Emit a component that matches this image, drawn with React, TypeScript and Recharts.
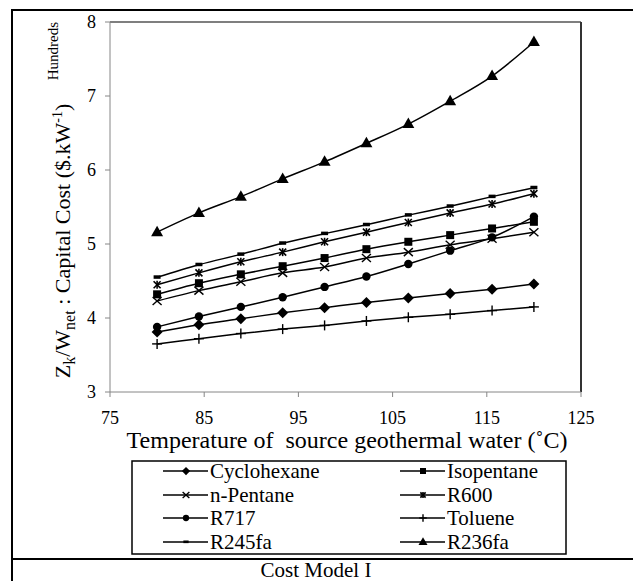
import { Line, LineChart, ReferenceLine, XAxis, YAxis } from 'recharts'

// source water temperature, °C
const temps = [80, 84.44, 88.89, 93.33, 97.78, 102.22, 106.67, 111.11, 115.56, 120]

// capital cost per net power, hundreds of $/kW
const cyclohexane = [3.81, 3.91, 3.99, 4.07, 4.14, 4.21, 4.27, 4.33, 4.39, 4.46]
const isopentane = [4.32, 4.47, 4.59, 4.7, 4.81, 4.93, 5.03, 5.12, 5.21, 5.3]
const nPentane = [4.23, 4.37, 4.49, 4.61, 4.69, 4.81, 4.89, 4.99, 5.07, 5.16]
const r600 = [4.45, 4.61, 4.76, 4.89, 5.03, 5.16, 5.29, 5.42, 5.54, 5.68]
const r717 = [3.88, 4.02, 4.15, 4.28, 4.42, 4.56, 4.73, 4.91, 5.09, 5.37]
const toluene = [3.65, 3.72, 3.79, 3.85, 3.9, 3.96, 4.01, 4.05, 4.1, 4.15]
const r245fa = [4.55, 4.72, 4.86, 5.01, 5.14, 5.26, 5.39, 5.51, 5.64, 5.76]
const r236fa = [5.16, 5.42, 5.64, 5.88, 6.11, 6.36, 6.62, 6.93, 7.27, 7.73]

const xTicks = [75, 85, 95, 105, 115, 125]
const yTicks = [3, 4, 5, 6, 7, 8]

type Shape = 'diamond' | 'square' | 'cross' | 'star' | 'circle' | 'plus' | 'dash' | 'triangle'

const series: { name: string; values: number[]; shape: Shape }[] = [
  { name: 'Cyclohexane', values: cyclohexane, shape: 'diamond' },
  { name: 'Isopentane', values: isopentane, shape: 'square' },
  { name: 'n-Pentane', values: nPentane, shape: 'cross' },
  { name: 'R600', values: r600, shape: 'star' },
  { name: 'R717', values: r717, shape: 'circle' },
  { name: 'Toluene', values: toluene, shape: 'plus' },
  { name: 'R245fa', values: r245fa, shape: 'dash' },
  { name: 'R236fa', values: r236fa, shape: 'triangle' },
]

const rows = temps.map((t, i) => {
  const row: Record<string, number> = { t }
  series.forEach((s) => (row[s.name] = s.values[i]))
  return row
})

const FONT = '"Liberation Serif", "Times New Roman", serif'
const AXIS = '#868686'

function Marker({ shape, cx, cy, k = 1 }: { shape: Shape; cx: number; cy: number; k?: number }) {
  const s = k
  switch (shape) {
    case 'diamond':
      return <polygon points={`${cx},${cy - 5.5 * s} ${cx + 5.5 * s},${cy} ${cx},${cy + 5.5 * s} ${cx - 5.5 * s},${cy}`} fill='#000' />
    case 'square':
      return <rect x={cx - 4 * s} y={cy - 4 * s} width={8 * s} height={8 * s} fill='#000' />
    case 'cross':
      return (
        <g stroke='#000' strokeWidth={1.4}>
          <line x1={cx - 4.5 * s} y1={cy - 4 * s} x2={cx + 4.5 * s} y2={cy + 4 * s} />
          <line x1={cx - 4.5 * s} y1={cy + 4 * s} x2={cx + 4.5 * s} y2={cy - 4 * s} />
        </g>
      )
    case 'star':
      return (
        <g stroke='#000' strokeWidth={1.6}>
          <line x1={cx - 3.5 * s} y1={cy - 3.5 * s} x2={cx + 3.5 * s} y2={cy + 3.5 * s} />
          <line x1={cx - 3.5 * s} y1={cy + 3.5 * s} x2={cx + 3.5 * s} y2={cy - 3.5 * s} />
          <line x1={cx} y1={cy - 4 * s} x2={cx} y2={cy + 4 * s} />
        </g>
      )
    case 'circle':
      return <circle cx={cx} cy={cy} r={4.2 * s} fill='#000' />
    case 'plus':
      return (
        <g stroke='#000' strokeWidth={1.4}>
          <line x1={cx - 5 * s} y1={cy} x2={cx + 5 * s} y2={cy} />
          <line x1={cx} y1={cy - 5 * s} x2={cx} y2={cy + 5 * s} />
        </g>
      )
    case 'dash':
      return <rect x={cx - 3.5 * s} y={cy - 2 * s} width={7 * s} height={3.5 * s} fill='#000' />
    case 'triangle':
      return <polygon points={`${cx},${cy - 6.5 * s} ${cx + 6 * s},${cy + 4 * s} ${cx - 6 * s},${cy + 4 * s}`} fill='#000' />
  }
  return null
}

const legendRows = [471, 495, 518, 542]
const legendCols = [163, 400]

export default function App() {
  return (
    <div style={{ position: 'absolute', left: 0, top: 0, width: 633, height: 581, background: '#fff', fontFamily: FONT }}>
      <LineChart width={633} height={581} data={rows} margin={{ top: 22, right: 52, bottom: 159, left: 0 }}>
        <XAxis
          dataKey='t'
          type='number'
          domain={[75, 125]}
          ticks={xTicks}
          stroke={AXIS}
          tickSize={5}
          tickMargin={14}
          height={30}
          tick={{ fill: '#000', fontSize: 18, fontFamily: FONT }}
        />
        <YAxis
          domain={[3, 8]}
          ticks={yTicks}
          stroke={AXIS}
          tickSize={5}
          tickMargin={9}
          width={110}
          tick={{ fill: '#000', fontSize: 18, fontFamily: FONT }}
        />
        <ReferenceLine y={8} stroke='#555' strokeWidth={1.5} />
        <ReferenceLine x={125} stroke='#333' strokeWidth={2} />
        {series.map((s) => (
          <Line
            key={s.name}
            type='monotone'
            dataKey={s.name}
            stroke='#000'
            strokeWidth={1.5}
            isAnimationActive={false}
            dot={(p: any) => (
              <g key={`${s.name}-${p.index}`}>
                <Marker shape={s.shape} cx={p.cx} cy={p.cy} />
              </g>
            )}
            activeDot={false}
          />
        ))}
      </LineChart>

      <svg width={633} height={581} style={{ position: 'absolute', left: 0, top: 0, pointerEvents: 'none' }} fontFamily={FONT}>
        {/* table cell frame */}
        <line x1={12} y1={10} x2={12} y2={581} stroke='#000' strokeWidth={2} />
        <line x1={11} y1={10} x2={633} y2={10} stroke='#000' strokeWidth={2} />
        <line x1={11} y1={559} x2={633} y2={559} stroke='#000' strokeWidth={2} />

        <text x={58} y={22} transform='rotate(-90 58 22)' textAnchor='end' fontSize={15}>
          Hundreds
        </text>
        <text x={70} y={241} transform='rotate(-90 70 241)' textAnchor='middle' fontSize={22}>
          Z<tspan fontSize={16} dy={5}>k</tspan>
          <tspan dy={-5}>/W</tspan>
          <tspan fontSize={16} dy={5}>net</tspan>
          <tspan dy={-5}> : Capital Cost ($.kW</tspan>
          <tspan fontSize={14} dy={-8}>-1</tspan>
          <tspan dy={8}>)</tspan>
        </text>

        <text x={347} y={448} textAnchor='middle' fontSize={24} style={{ whiteSpace: 'pre' }}>
          Temperature of  source geothermal water (˚C)
        </text>

        <rect x={132} y={461} width={434} height={93} fill='#fff' stroke='#000' strokeWidth={1.5} />
        {series.map((s, i) => {
          const x = legendCols[i % 2]
          const y = legendRows[Math.floor(i / 2)]
          return (
            <g key={s.name}>
              <line x1={x} y1={y} x2={x + 45} y2={y} stroke='#000' strokeWidth={1.5} />
              <Marker shape={s.shape} cx={x + 23} cy={y} k={0.75} />
              <text x={x + 47} y={y + 7} fontSize={21}>
                {s.name}
              </text>
            </g>
          )
        })}

        <text x={316} y={577} textAnchor='middle' fontSize={21}>
          Cost Model I
        </text>
      </svg>
    </div>
  )
}
